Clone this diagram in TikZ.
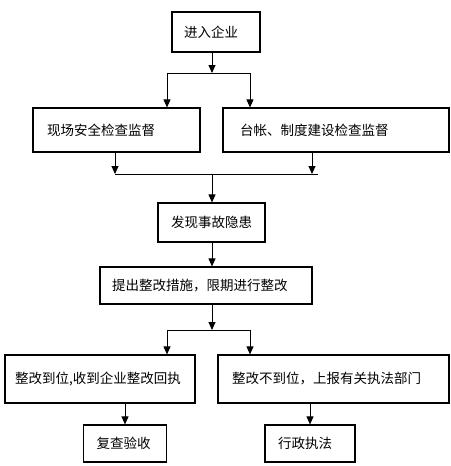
\documentclass[tikz,border=0pt]{standalone}
\usepackage{fontspec}
\newfontfamily\cjk{Noto Sans CJK SC}
\usetikzlibrary{arrows.meta}
\begin{document}
\begin{tikzpicture}[x=1pt, y=-1pt, >={Triangle[width=7pt,length=8pt]},
    box/.style={draw, line width=1.2pt, inner ysep=0pt, align=left,
      font=\cjk\fontsize{13.5}{16}\selectfont},
    link/.style={line width=0.9pt}]
  \useasboundingbox (0,0) rectangle (450,466);
  % first level
  \node[box, minimum height=40, text width=64, inner xsep=12] (enter) at (216,32) {进入企业};
  \node[box, minimum height=44, text width=139, inner xsep=14] (site) at (116.5,130) {现场安全检查监督};
  \node[box, minimum height=44, text width=192, inner xsep=17] (ledger) at (336,130) {台帐、制度建设检查监督};
  \coordinate (s1) at (212,73);
  \coordinate (s1l) at (167,73);
  \coordinate (s1r) at (250,73);
  \draw[link,->] (enter.south -| s1) -- (s1);
  \draw[link] (s1l) -- (s1r);
  \draw[link,->] (s1l) -- (site.north -| s1l);
  \draw[link,->] (s1r) -- (ledger.north -| s1r);
  % merge
  \node[box, minimum height=39, text width=81, inner xsep=13] (hazard) at (211.5,222.5) {发现事故隐患};
  \coordinate (m1) at (212,174);
  \coordinate (m1l) at (115,174);
  \coordinate (m1r) at (312,174);
  \coordinate (m1e) at (318,174);
  \draw[link,->] (site.south -| m1l) -- (m1l);
  \draw[link,->] (ledger.south -| m1r) -- (m1r);
  \draw[link] (m1l) -- (m1e);
  \draw[link,->] (m1) -- (hazard.north -| m1);
  \node[box, minimum height=37, text width=188, inner xsep=12] (measure) at (206,285.5) {提出整改措施，限期进行整改};
  \draw[link,->] (hazard.south -| m1) -- (measure.north -| m1);
  % second split
  \node[box, minimum height=48, text width=170, inner xsep=10] (done) at (100,379) {整改到位,收到企业整改回执};
  \node[box, minimum height=48, text width=203, inner xsep=14] (report) at (333.5,379) {整改不到位，上报有关执法部门};
  \coordinate (s2) at (212,330);
  \coordinate (s2l) at (167,330);
  \coordinate (s2r) at (250,330);
  \draw[link,->] (measure.south -| s2) -- (s2);
  \draw[link] (s2l) -- (s2r);
  \draw[link,->] (s2l) -- (done.north -| s2l);
  \draw[link,->] (s2r) -- (report.north -| s2r);
  % last level
  \node[box, minimum height=37, text width=57, inner xsep=13] (recheck) at (125,443.5) {复查验收};
  \node[box, minimum height=37, text width=64, inner xsep=13] (enforce) at (310,443.5) {行政执法};
  \draw[link,->] (done.south -| recheck) -- (recheck.north);
  \draw[link,->] (report.south -| enforce) -- (enforce.north);
\end{tikzpicture}
\end{document}
